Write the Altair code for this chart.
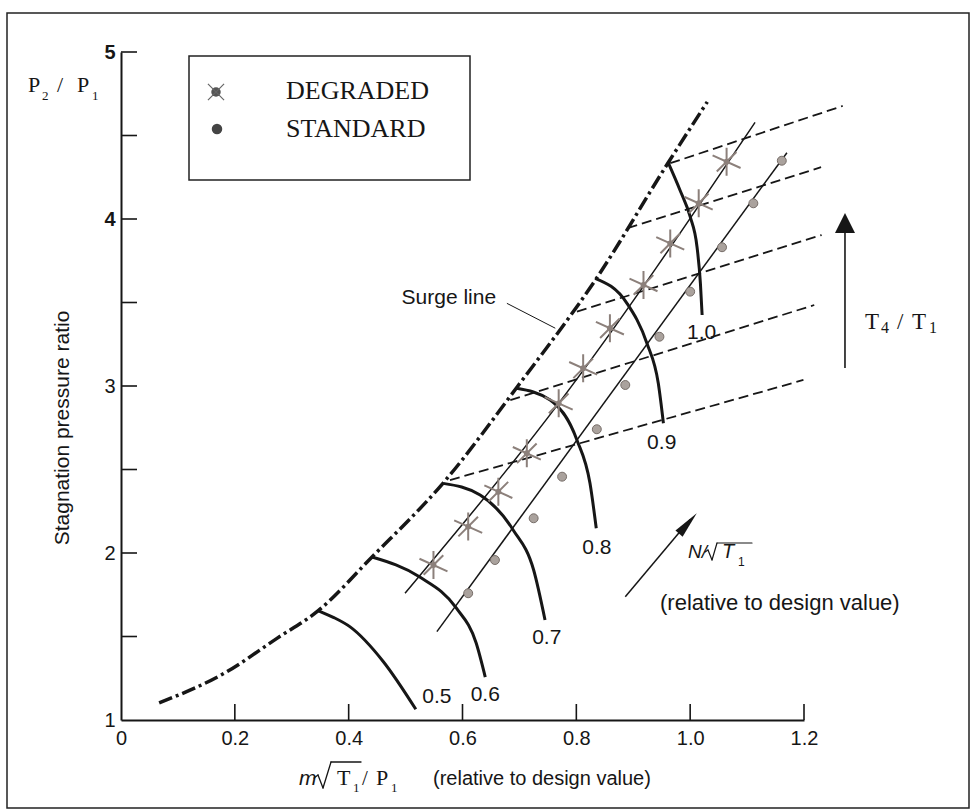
import altair as alt
import pandas as pd

# ---------------- data ----------------
surge_x = [0.067, 0.186, 0.274, 0.346, 0.441, 0.566, 0.696, 0.837, 0.961, 1.030]
surge_y = [1.102, 1.289, 1.489, 1.653, 1.976, 2.419, 2.994, 3.653, 4.335, 4.701]

speed_names = ["0.5", "0.6", "0.7", "0.8", "0.9", "1.0"]
speed_x = [
    [0.347, 0.373, 0.402, 0.461, 0.518],
    [0.441, 0.525, 0.589, 0.624, 0.640],
    [0.566, 0.631, 0.689, 0.725, 0.745],
    [0.695, 0.754, 0.801, 0.824, 0.835],
    [0.833, 0.889, 0.924, 0.944, 0.953],
    [0.962, 0.982, 1.000, 1.012, 1.018, 1.021],
]
speed_y = [
    [1.654, 1.615, 1.559, 1.349, 1.064],
    [1.976, 1.856, 1.671, 1.461, 1.257],
    [2.417, 2.347, 2.138, 1.898, 1.599],
    [2.986, 2.916, 2.677, 2.417, 2.148],
    [3.645, 3.495, 3.256, 3.016, 2.777],
    [4.333, 4.174, 4.014, 3.834, 3.615, 3.425],
]
speed_label_x = [0.555, 0.640, 0.748, 0.836, 0.950, 1.020]
speed_label_y = [1.140, 1.150, 1.489, 2.028, 2.657, 3.316]

# constant T4/T1 lines (dashed)
temp_x0 = [0.965, 0.890, 0.801, 0.684, 0.578]
temp_y0 = [4.334, 3.946, 3.445, 2.916, 2.437]
temp_x1 = [1.268, 1.230, 1.231, 1.218, 1.199]
temp_y1 = [4.677, 4.310, 3.904, 3.485, 3.036]

# operating lines
deg_line_x = [0.499, 0.769, 1.114]
deg_line_y = [1.759, 2.896, 4.579]
std_line_x = [0.555, 1.170]
std_line_y = [1.529, 4.397]

# measured points
deg_x = [0.549, 0.610, 0.663, 0.713, 0.769, 0.812, 0.859, 0.918, 0.965, 1.015, 1.064]
deg_y = [1.928, 2.158, 2.367, 2.597, 2.896, 3.106, 3.346, 3.605, 3.854, 4.094, 4.343]
std_x = [0.610, 0.657, 0.725, 0.775, 0.836, 0.886, 0.946, 1.000, 1.056, 1.111, 1.161]
std_y = [1.759, 1.958, 2.208, 2.457, 2.741, 3.006, 3.295, 3.565, 3.831, 4.094, 4.349]

# annotations (data units)
surge_label_x, surge_label_y = [0.576], [3.525]
surge_leader_x = [0.678, 0.763]
surge_leader_y = [3.495, 3.346]
n_arrow_x = [0.886, 1.000]
n_arrow_y = [1.738, 2.200]
n_head_x, n_head_y = [0.996], [2.177]
t_arrow_x = [1.272, 1.272]
t_arrow_y = [3.108, 3.960]
t_head_x, t_head_y = [1.272], [3.976]

x_tick_vals = [0.2, 0.4, 0.6, 0.8, 1.0, 1.2]
y_tick_vals = [1.5, 2, 2.5, 3, 3.5, 4, 4.5, 5]
x_label_vals = [0, 0.2, 0.4, 0.6, 0.8, 1.0, 1.2]
y_label_vals = [1, 2, 3, 4, 5]

# ---------------- tables ----------------
surge_df = pd.DataFrame({"x": surge_x, "y": surge_y})
rows = []
for name, xs_, ys_ in zip(speed_names, speed_x, speed_y):
    for i, (a, b) in enumerate(zip(xs_, ys_)):
        rows.append({"speed": name, "i": i, "x": a, "y": b})
speed_df = pd.DataFrame(rows)
speed_lab_df = pd.DataFrame({"x": speed_label_x, "y": speed_label_y, "t": speed_names})
rows = []
for k in range(len(temp_x0)):
    rows.append({"k": k, "i": 0, "x": temp_x0[k], "y": temp_y0[k]})
    rows.append({"k": k, "i": 1, "x": temp_x1[k], "y": temp_y1[k]})
temp_df = pd.DataFrame(rows)
op_df = pd.DataFrame(
    [{"line": "deg", "i": i, "x": a, "y": b} for i, (a, b) in enumerate(zip(deg_line_x, deg_line_y))]
    + [{"line": "std", "i": i, "x": a, "y": b} for i, (a, b) in enumerate(zip(std_line_x, std_line_y))]
)
deg_df = pd.DataFrame({"x": deg_x, "y": deg_y})
std_df = pd.DataFrame({"x": std_x, "y": std_y})

W, H = 683, 668
ORX, ORY = 121, 52
INK = "#161616"
SANS = "Liberation Sans"
SERIF = "Liberation Serif"

xs = alt.Scale(domain=[0, 1.2], nice=False, zero=False)
ys = alt.Scale(domain=[1, 5], nice=False, zero=False)
xaxis = alt.Axis(values=x_label_vals, labelExpr="datum.value == 0 ? '0' : format(datum.value, '.1f')",
                 ticks=False, grid=False, domainColor=INK, domainWidth=2, labelFont=SANS,
                 labelFontSize=20, labelColor=INK, labelPadding=8, title=None,
                 labelFlush=False, labelOverlap=False)
yaxis = alt.Axis(values=y_label_vals, format="d", ticks=False, grid=False, domainColor=INK,
                 domainWidth=2, labelFont=SANS, labelFontSize=20, labelColor=INK, labelPadding=6,
                 title=None, labelFlush=False, labelOverlap=False,
                 labelFontWeight={"condition": {"test": "datum.value >= 4", "value": "bold"}, "value": "normal"})
X = alt.X("x:Q", scale=xs, axis=xaxis)
Y = alt.Y("y:Q", scale=ys, axis=yaxis)

one = pd.DataFrame({"k": [0]})


def ptext(text, px, py, size=20, font=SANS, style="normal", align="left", baseline="alphabetic", angle=0):
    return alt.Chart(one).mark_text(text=text, font=font, fontSize=size, fontStyle=style, align=align,
                                    baseline=baseline, angle=angle, color=INK).encode(
        x=alt.value(px - ORX), y=alt.value(py - ORY))


def prule(x1, y1, x2, y2, w=1.3):
    return alt.Chart(one).mark_rule(color=INK, strokeWidth=w, strokeCap="round").encode(
        x=alt.value(x1 - ORX), y=alt.value(y1 - ORY), x2=alt.value(x2 - ORX), y2=alt.value(y2 - ORY))


def pbox(x1, y1, x2, y2, w=1.5):
    return alt.Chart(one).mark_rect(fillOpacity=0, stroke="#222", strokeWidth=w).encode(
        x=alt.value(x1 - ORX), y=alt.value(y1 - ORY), x2=alt.value(x2 - ORX), y2=alt.value(y2 - ORY))


def radical(pts, w=1.3):
    return [prule(a[0], a[1], b[0], b[1], w) for a, b in zip(pts[:-1], pts[1:])]


ASTER = "M0,-1L0,1M-1,-0.45L1,0.45M-0.7,0.7L0.7,-0.7"
XSHAPE = "M-1,-1L1,1M-1,1L1,-1"
NARROW = "M0,-1L0.35,1L-0.35,1Z"
TRI = "M0,-1L1,1L-1,1Z"

layers = []
# frame and legend box
layers.append(pbox(7, 13, 969, 808, 1.5))
layers.append(pbox(189, 56, 470, 180, 1.5))

# dashed T4/T1 lines
layers.append(alt.Chart(temp_df).mark_line(color=INK, strokeWidth=1.8, strokeDash=[10, 5]).encode(
    x=X, y=Y, detail="k:N", order="i:Q"))
# operating lines
layers.append(alt.Chart(op_df).mark_line(color=INK, strokeWidth=1.5, interpolate="monotone").encode(
    x=X, y=Y, detail="line:N", order="i:Q"))
# speed lines
layers.append(alt.Chart(speed_df).mark_line(color=INK, strokeWidth=3, interpolate="monotone").encode(
    x=X, y=Y, detail="speed:N", order="i:Q"))
# surge line
layers.append(alt.Chart(surge_df).mark_line(color=INK, strokeWidth=3.5, strokeDash=[14, 4, 3, 4],
                                            interpolate="monotone").encode(x=X, y=Y))
# inward ticks
layers.append(alt.Chart(pd.DataFrame({"x": x_tick_vals})).mark_rule(color=INK, strokeWidth=1.6).encode(
    x=X, y=alt.value(H), y2=alt.value(H - 16)))
layers.append(alt.Chart(pd.DataFrame({"y": y_tick_vals})).mark_rule(color=INK, strokeWidth=1.6).encode(
    y=Y, x=alt.value(0), x2=alt.value(16)))

# measured points
layers.append(alt.Chart(std_df).mark_point(shape="circle", filled=True, size=80, fill="#aaa29d",
                                           stroke="#776e69", strokeWidth=1, opacity=1).encode(x=X, y=Y))
layers.append(alt.Chart(deg_df).mark_point(shape="circle", filled=True, size=35, color="#8c807b",
                                           opacity=1).encode(x=X, y=Y))
layers.append(alt.Chart(deg_df).mark_point(shape=ASTER, filled=False, size=784, stroke="#8c807b",
                                           strokeWidth=2, opacity=1).encode(x=X, y=Y))

# speed labels
layers.append(alt.Chart(speed_lab_df).mark_text(font=SANS, fontSize=21, color=INK, align="center",
                                                baseline="middle").encode(x=X, y=Y, text="t:N"))
# surge label and leader
layers.append(alt.Chart(pd.DataFrame({"x": surge_label_x, "y": surge_label_y})).mark_text(
    text="Surge line", font=SANS, fontSize=21, color=INK, align="center", baseline="middle").encode(x=X, y=Y))
layers.append(alt.Chart(pd.DataFrame({"x": surge_leader_x, "y": surge_leader_y})).mark_line(
    color=INK, strokeWidth=1).encode(x=X, y=Y))
# N/sqrt(T1) arrow
layers.append(alt.Chart(pd.DataFrame({"x": n_arrow_x, "y": n_arrow_y})).mark_line(
    color=INK, strokeWidth=1.5).encode(x=X, y=Y))
layers.append(alt.Chart(pd.DataFrame({"x": n_head_x, "y": n_head_y})).mark_point(
    shape=NARROW, filled=True, size=729, color=INK, angle=41, opacity=1).encode(x=X, y=Y))
# T4/T1 arrow
layers.append(alt.Chart(pd.DataFrame({"x": t_arrow_x, "y": t_arrow_y})).mark_line(
    color=INK, strokeWidth=1.6).encode(x=X, y=Y))
layers.append(alt.Chart(pd.DataFrame({"x": t_head_x, "y": t_head_y})).mark_point(
    shape=TRI, filled=True, size=400, color=INK, opacity=1).encode(x=X, y=Y))
# T4 / T1 label
layers.append(ptext("T", 865, 329, size=23, font=SERIF))
layers.append(ptext("4", 881, 333, size=16, font=SERIF))
layers.append(ptext("/", 897, 329, size=23, font=SERIF))
layers.append(ptext("T", 912, 329, size=23, font=SERIF))
layers.append(ptext("1", 929, 333, size=16, font=SERIF))

# legend contents
layers.append(alt.Chart(one).mark_point(shape="circle", filled=True, size=90, color="#555", opacity=1).encode(
    x=alt.value(216 - ORX), y=alt.value(92 - ORY)))
layers.append(alt.Chart(one).mark_point(shape=XSHAPE, filled=False, size=260, stroke="#666", strokeWidth=1.2,
                                        opacity=1).encode(x=alt.value(216 - ORX), y=alt.value(92 - ORY)))
layers.append(alt.Chart(one).mark_point(shape="circle", filled=True, size=110, color="#444", opacity=1).encode(
    x=alt.value(217 - ORX), y=alt.value(129 - ORY)))
layers.append(ptext("DEGRADED", 286, 91, size=26, font=SERIF, baseline="middle"))
layers.append(ptext("STANDARD", 286, 129, size=26, font=SERIF, baseline="middle"))

# y-axis titles
layers.append(ptext("Stagnation pressure ratio", 63, 428, size=21, align="center", baseline="middle", angle=270))
layers.append(ptext("P", 28, 92, size=22, font=SERIF))
layers.append(ptext("2", 42, 100, size=13, font=SERIF))
layers.append(ptext("/", 57, 92, size=22, font=SERIF))
layers.append(ptext("P", 77, 92, size=22, font=SERIF))
layers.append(ptext("1", 92, 100, size=13, font=SERIF))

# x-axis title pieces
layers.append(ptext("m", 299, 785, size=21, style="italic"))
layers += radical([(314, 778), (318, 775), (323, 788), (331, 762), (361, 762)])
layers.append(ptext("T", 337, 785, size=22, font=SERIF))
layers.append(ptext("1", 353, 792, size=13, font=SERIF))
layers.append(ptext("/", 362, 785, size=21, font=SERIF))
layers.append(ptext("P", 376, 785, size=22, font=SERIF))
layers.append(ptext("1", 391, 792, size=13, font=SERIF))
layers.append(ptext("(relative to design value)", 433, 785, size=20))

# N/sqrt(T1) label pieces
layers.append(ptext("N/", 688, 558, size=19, style="italic"))
layers += radical([(705, 552), (708, 550), (712, 560), (717, 543), (752, 543)], 1.2)
layers.append(ptext("T", 722, 558, size=20, style="italic"))
layers.append(ptext("1", 738, 566, size=12))
layers.append(ptext("(relative to design value)", 660, 610, size=22))

chart = alt.layer(*layers).properties(
    width=W, height=H,
    padding={"left": ORX, "top": ORY, "right": 978 - ORX - W, "bottom": 811 - ORY - H},
    autosize=alt.AutoSizeParams(type="none"),
    background="white",
).configure_view(stroke=None)

chart.save("out.html", embed_options={"renderer": "svg", "actions": False})
